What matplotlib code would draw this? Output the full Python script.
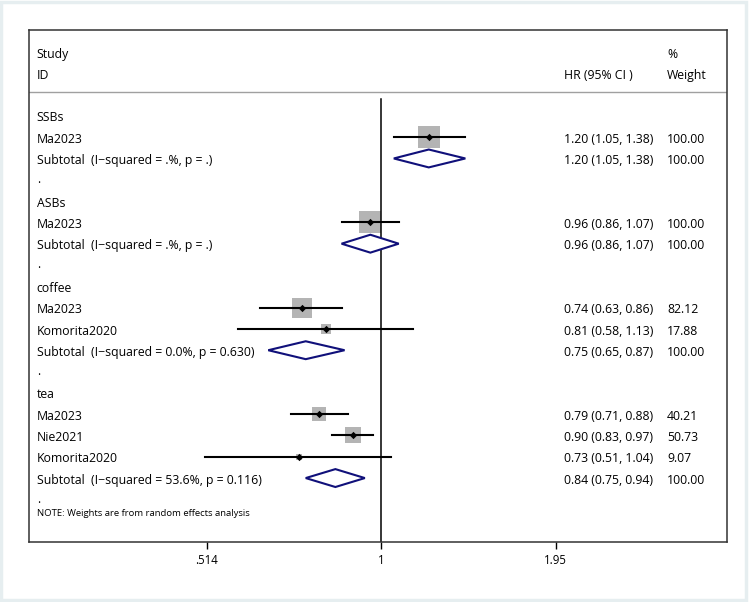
#Forest plot of beverage intake and HR, Stata metan style
import numpy as np
import matplotlib
matplotlib.use('Agg')
import matplotlib.pyplot as plt
from matplotlib.patches import Polygon, Rectangle

#Data
groups = ['SSBs', 'ASBs', 'coffee', 'tea']
study = ['Ma2023', 'Ma2023', 'Ma2023', 'Komorita2020', 'Ma2023', 'Nie2021', 'Komorita2020']
study_group = [0, 1, 2, 2, 3, 3, 3]
hr = [1.20, 0.96, 0.74, 0.81, 0.79, 0.90, 0.73]
lo = [1.05, 0.86, 0.63, 0.58, 0.71, 0.83, 0.51]
hi = [1.38, 1.07, 0.86, 1.13, 0.88, 0.97, 1.04]
weight = [100.00, 100.00, 82.12, 17.88, 40.21, 50.73, 9.07]

sub_hr = [1.20, 0.96, 0.75, 0.84]
sub_lo = [1.05, 0.86, 0.65, 0.75]
sub_hi = [1.38, 1.07, 0.87, 0.94]
sub_i2 = ['.%', '.%', '0.0%', '53.6%']
sub_p = ['.', '.', '0.630', '0.116']

xticks = [0.514, 1, 1.95]
xtick_labels = ['.514', '1', '1.95']

plt.rcParams['font.family'] = ['Open Sans', 'DejaVu Sans']
fs = 8.8

fig = plt.figure(figsize=(7.49, 6.02), dpi=100)
fig.patches.append(Rectangle((0.002, 0.004), 0.994, 0.993, transform=fig.transFigure,
                             fill=False, edgecolor='#e6eef0', lw=2.5))
ax = fig.add_axes([0.0387, 0.0997, 0.9319, 0.8505])
ax.set_xscale('log')
ax.set_xlim(0.2606, 3.749)
ax.set_ylim(23.0, -1.03)

#Text column positions (axes fraction)
tr = ax.get_yaxis_transform()
x_id, x_ci, x_w = 0.011, 0.767, 0.914
dy = 0.1  #text sits a little below the marker row

def label(x, y, s, size=fs):
    ax.text(x, y + dy, s, transform=tr, va='center', fontsize=size)

label(x_id, 0, 'Study')
label(x_id, 1, 'ID')
label(x_ci, 1, 'HR (95% CI )')
label(x_w, 0, '%')
label(x_w, 1, 'Weight')
ax.plot([0, 1], [1.88, 1.88], transform=tr, color='#a0a0a0', lw=1)

row = 3
for g, name in enumerate(groups):
    label(x_id, row, name)
    row += 1
    for i in range(len(study)):
        if study_group[i] != g:
            continue
        side = 22 * np.sqrt(weight[i] / 100) * 0.72
        ax.plot([lo[i], hi[i]], [row, row], color='black', lw=1.5, zorder=2)
        ax.scatter(hr[i], row, marker='s', s=side ** 2, color='#b4b4b4', lw=0, zorder=1)
        ax.scatter(hr[i], row, marker='D', s=14, color='black', lw=0, zorder=3)
        label(x_id, row, study[i])
        label(x_ci, row, '%.2f (%.2f, %.2f)' % (hr[i], lo[i], hi[i]))
        label(x_w, row, '%.2f' % weight[i])
        row += 1
    #Subtotal diamond
    h = 0.42
    ax.add_patch(Polygon([(sub_lo[g], row), (sub_hr[g], row - h), (sub_hi[g], row),
                          (sub_hr[g], row + h)], closed=True, facecolor='white',
                         edgecolor='#10107a', lw=1.5, zorder=3))
    label(x_id, row, 'Subtotal  (I\u2212squared = %s, p = %s)' % (sub_i2[g], sub_p[g]))
    label(x_ci, row, '%.2f (%.2f, %.2f)' % (sub_hr[g], sub_lo[g], sub_hi[g]))
    label(x_w, row, '100.00')
    row += 1
    label(x_id, row - 0.1, '.')
    row += 1

label(x_id, 21.55, 'NOTE: Weights are from random effects analysis', size=6.8)

#Null line
ax.plot([1, 1], [2.2, 23.0], color='black', lw=1.1, zorder=2)

ax.set_xticks(xticks)
ax.set_xticklabels(xtick_labels, fontsize=8.3)
ax.xaxis.set_minor_locator(matplotlib.ticker.NullLocator())
ax.tick_params(axis='x', length=5, width=1, pad=4)
ax.set_yticks([])
for s in ax.spines.values():
    s.set_linewidth(1.1)
    s.set_color('#333333')

plt.savefig('out.png', dpi=100)
